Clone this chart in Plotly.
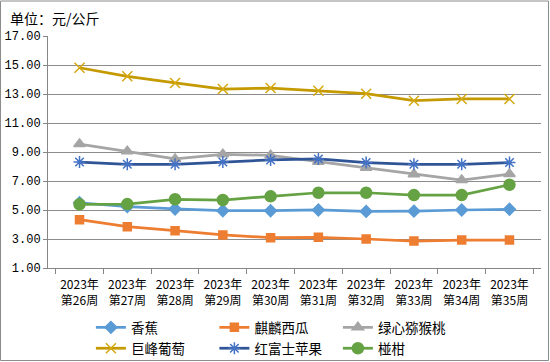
import plotly.graph_objects as go

categories = ["2023年<br>第26周", "2023年<br>第27周", "2023年<br>第28周", "2023年<br>第29周", "2023年<br>第30周",
              "2023年<br>第31周", "2023年<br>第32周", "2023年<br>第33周", "2023年<br>第34周", "2023年<br>第35周"]

banana = [5.50, 5.23, 5.07, 4.95, 4.95, 5.00, 4.90, 4.92, 5.00, 5.05]
watermelon = [4.33, 3.85, 3.57, 3.28, 3.09, 3.12, 3.00, 2.86, 2.93, 2.93]
kiwi = [9.55, 9.05, 8.52, 8.84, 8.77, 8.33, 7.92, 7.46, 7.07, 7.48]
grape = [14.81, 14.22, 13.76, 13.34, 13.41, 13.23, 13.02, 12.54, 12.66, 12.66]
apple = [8.31, 8.15, 8.15, 8.31, 8.45, 8.52, 8.27, 8.15, 8.15, 8.27]
citrus = [5.39, 5.41, 5.74, 5.69, 5.94, 6.19, 6.19, 6.03, 6.03, 6.74]

series = [
    ("香蕉", banana, "#5B9BD5", "#5B9BD5", "diamond", 9, "legend"),
    ("麒麟西瓜", watermelon, "#ED7D31", "#ED7D31", "square", 8, "legend"),
    ("绿心猕猴桃", kiwi, "#A5A5A5", "#A5A5A5", "triangle-up", 10, "legend"),
    ("巨峰葡萄", grape, "#C49A00", "#D4A810", "x-thin-open", 10, "legend2"),
    ("红富士苹果", apple, "#2F5597", "#4472C4", "asterisk-open", 10, "legend2"),
    ("椪柑", citrus, "#65A243", "#65A243", "circle", 11, "legend2"),
]

fig = go.Figure()
for name, vals, lc, mc, sym, sz, lg in series:
    fig.add_trace(go.Scatter(
        x=categories, y=vals, name=name, mode="lines+markers", legend=lg,
        line=dict(color=lc, width=2.75),
        marker=dict(symbol=sym, size=sz, color=mc, line=dict(color=mc, width=1.5)),
    ))

font_family = "Noto Sans CJK SC, Noto Sans, sans-serif"
num_family = "Liberation Mono, DejaVu Sans Mono, monospace"

legend_common = dict(
    orientation="h", x=0.087, xanchor="left", yanchor="top",
    entrywidth=78.5, entrywidthmode="pixels",
    font=dict(size=13.5, family=font_family), tracegroupgap=0,
    itemwidth=30, bgcolor="rgba(0,0,0,0)",
)

fig.update_layout(
    width=550, height=362,
    margin=dict(l=48, r=9, t=36, b=94, autoexpand=False),
    paper_bgcolor="white", plot_bgcolor="white",
    font=dict(family=font_family, size=12, color="#000000"),
    showlegend=True,
    legend=dict(legend_common, y=-0.19),
    legend2=dict(legend_common, y=-0.28),
    annotations=[dict(
        text="单位：元/公斤", xref="paper", yref="paper",
        x=-40 / 493, y=1 + 18 / 232, xanchor="left", yanchor="middle",
        showarrow=False, font=dict(size=14, family=font_family),
    )],
    shapes=[dict(
        type="rect", xref="paper", yref="paper",
        x0=-47.5 / 493, x1=1 + 7.5 / 493, y0=-92.5 / 232, y1=1 + 35 / 232,
        line=dict(color="#8C8C8C", width=1), fillcolor="rgba(0,0,0,0)", layer="below",
    )],
)

fig.update_xaxes(
    type="category", tickson="boundaries", ticks="outside", ticklen=5,
    tickcolor="#868686", showline=True, linecolor="#868686", linewidth=1,
    showgrid=False, tickfont=dict(size=12), tickangle=0, ticklabelstandoff=6,
)
fig.update_yaxes(
    range=[1, 17], dtick=2, tick0=1, tickformat=".2f",
    ticks="outside", ticklen=4, tickcolor="#868686",
    showline=True, linecolor="#868686", linewidth=1,
    showgrid=True, gridcolor="#8C8C8C", gridwidth=1,
    tickfont=dict(size=12, family=num_family), zeroline=False,
)

fig.write_html(
    "out.html",
    config={"displayModeBar": False},
    post_script="document.body.style.margin='0';document.body.style.overflow='hidden';",
)
